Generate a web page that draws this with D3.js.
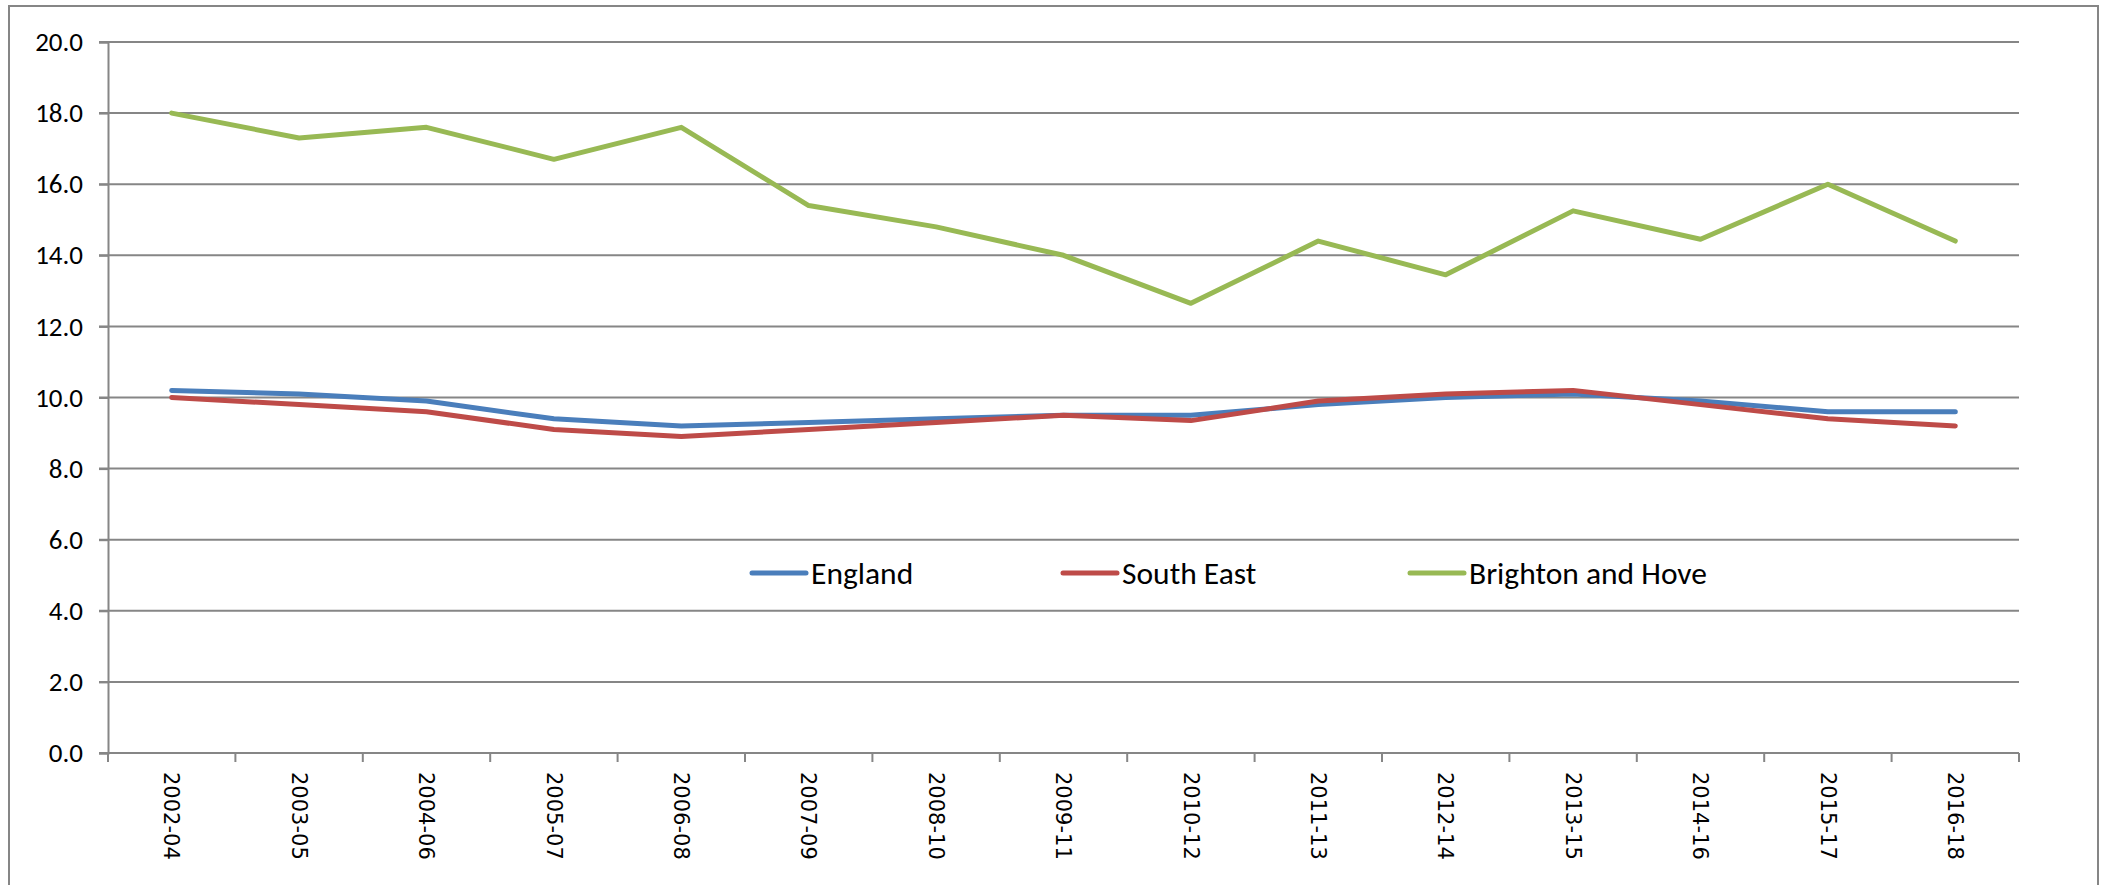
<!DOCTYPE html>
<html>
  <head>
    <meta charset="utf-8" />
    <script src="https://d3js.org/d3.v7.min.js"></script>
    <style>
      body { margin: 0; background: #fff; }
    </style>
  </head>
  <body>
    <script>
      // Chart data
      const periods = ["2002-04", "2003-05", "2004-06", "2005-07", "2006-08", "2007-09", "2008-10",
        "2009-11", "2010-12", "2011-13", "2012-14", "2013-15", "2014-16", "2015-17", "2016-18"];
      const england = [10.2, 10.1, 9.9, 9.4, 9.2, 9.3, 9.4, 9.5, 9.5, 9.8, 10.0, 10.1, 9.9, 9.6, 9.6];
      const southEast = [10.0, 9.8, 9.6, 9.1, 8.9, 9.1, 9.3, 9.5, 9.35, 9.9, 10.1, 10.2, 9.8, 9.4, 9.2];
      const brighton = [18.0, 17.3, 17.6, 16.7, 17.6, 15.4, 14.8, 14.0, 12.65, 14.4, 13.45, 15.25, 14.45, 16.0, 14.4];
      const seriesNames = ["England", "South East", "Brighton and Hove"];
      const yTicks = [0, 2, 4, 6, 8, 10, 12, 14, 16, 18, 20];

      const width = 2109, height = 885;
      const margin = { top: 42, right: 90, bottom: 132, left: 108 };
      const gray = "#868686";

      const svg = d3.select("body").append("svg")
        .attr("width", width)
        .attr("height", height);

      // outer chart border
      svg.append("rect")
        .attr("x", 9).attr("y", 6)
        .attr("width", 2089).attr("height", 900)
        .attr("fill", "none")
        .attr("stroke", gray)
        .attr("stroke-width", 2);

      const x = d3.scaleBand()
        .domain(periods)
        .range([margin.left, width - margin.right]);

      const y = d3.scaleLinear()
        .domain([0, 20])
        .range([height - margin.bottom, margin.top]);

      // gridlines
      svg.append("g")
        .selectAll("line")
        .data(yTicks)
        .join("line")
        .attr("x1", margin.left - 9)
        .attr("x2", width - margin.right)
        .attr("y1", d => y(d))
        .attr("y2", d => y(d))
        .attr("stroke", gray)
        .attr("stroke-width", 2);

      // y axis
      const yAxis = svg.append("g")
        .attr("transform", `translate(${margin.left},0)`)
        .call(d3.axisLeft(y).tickValues(yTicks).tickFormat(d3.format(".1f")).tickSize(9).tickPadding(16));
      yAxis.select(".domain").attr("stroke", gray).attr("stroke-width", 2);
      yAxis.selectAll(".tick line").attr("stroke", gray).attr("stroke-width", 2);
      yAxis.selectAll("text")
        .attr("font-family", "Carlito, Calibri, Lato, sans-serif")
        .attr("font-size", 27)
        .attr("fill", "#000");

      // x axis: ticks sit between categories
      const xAxis = svg.append("g")
        .attr("transform", `translate(0,${y(0)})`);
      xAxis.append("line")
        .attr("x1", margin.left).attr("x2", width - margin.right)
        .attr("stroke", gray).attr("stroke-width", 2);
      xAxis.selectAll(".xtick")
        .data(d3.range(periods.length + 1))
        .join("line")
        .attr("class", "xtick")
        .attr("x1", i => margin.left + i * x.step())
        .attr("x2", i => margin.left + i * x.step())
        .attr("y1", 0).attr("y2", 9)
        .attr("stroke", gray).attr("stroke-width", 2);
      xAxis.selectAll(".xlabel")
        .data(periods)
        .join("text")
        .attr("class", "xlabel")
        .attr("transform", d => `translate(${x(d) + x.bandwidth() / 2},19) rotate(90)`)
        .attr("dy", "0.35em")
        .attr("font-family", "DejaVu Sans, Verdana, sans-serif")
        .attr("font-size", 21)
        .attr("fill", "#000")
        .text(d => d);

      // lines
      const series = [
        { name: seriesNames[0], values: england, color: "#4A7EBB" },
        { name: seriesNames[1], values: southEast, color: "#BE4B48" },
        { name: seriesNames[2], values: brighton, color: "#98B954" }
      ];

      const line = d3.line()
        .x((d, i) => x(periods[i]) + x.bandwidth() / 2)
        .y(d => y(d));

      svg.append("g")
        .selectAll("path")
        .data(series)
        .join("path")
        .attr("d", d => line(d.values))
        .attr("fill", "none")
        .attr("stroke", d => d.color)
        .attr("stroke-width", 5)
        .attr("stroke-linejoin", "round")
        .attr("stroke-linecap", "round");

      // legend
      const legendX = [752, 1063, 1410];
      const legend = svg.append("g")
        .selectAll("g")
        .data(series)
        .join("g")
        .attr("transform", (d, i) => `translate(${legendX[i]},573)`);
      legend.append("line")
        .attr("x1", 0).attr("x2", 54)
        .attr("stroke", d => d.color)
        .attr("stroke-width", 5)
        .attr("stroke-linecap", "round");
      legend.append("text")
        .attr("x", 59)
        .attr("dy", "0.35em")
        .attr("font-family", "Carlito, Calibri, Lato, sans-serif")
        .attr("font-size", 31.5)
        .attr("fill", "#000")
        .text(d => d.name);
    </script>
  </body>
</html>
